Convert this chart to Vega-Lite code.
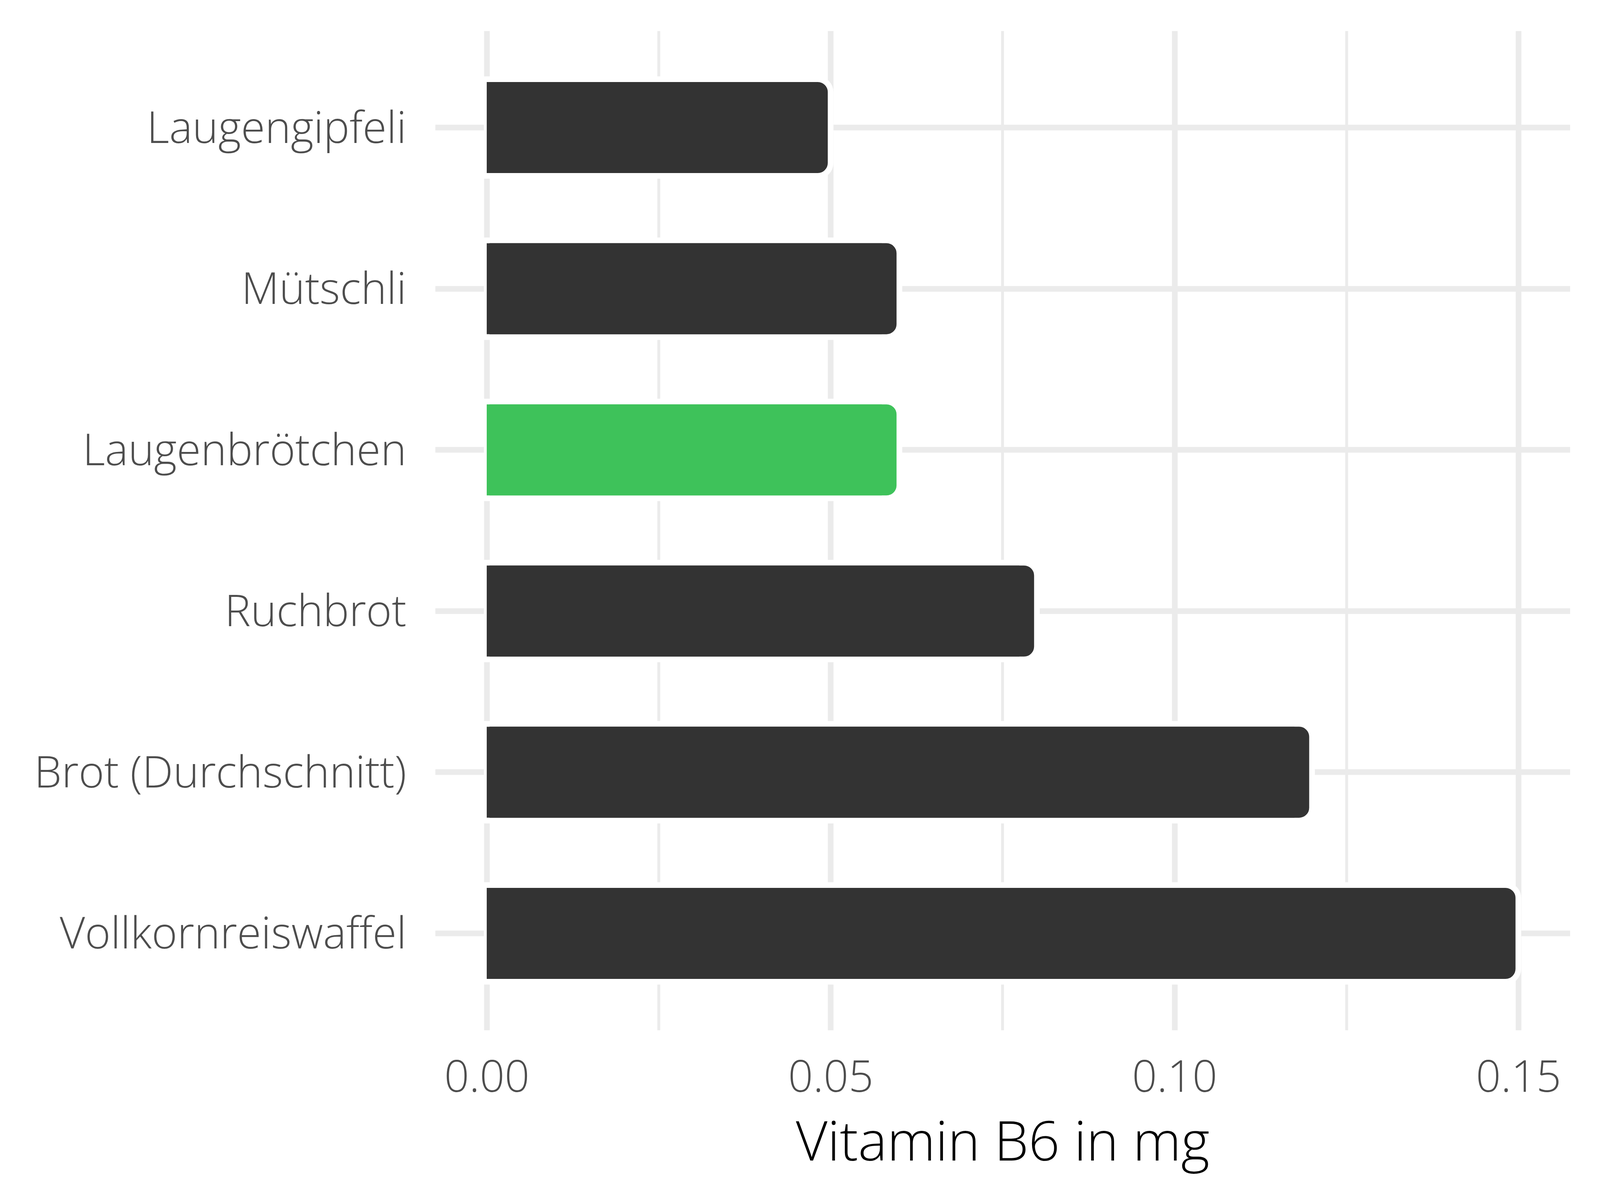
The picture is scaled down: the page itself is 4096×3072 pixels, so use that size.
{
  "$schema": "https://vega.github.io/schema/vega-lite/v6.json",
  "width": 2905,
  "height": 2558,
  "autosize": {"type": "none"},
  "padding": {"left": 1114, "top": 79, "right": 77, "bottom": 435},
  "background": "white",
  "config": {"view": {"stroke": null}, "font": "Open Sans"},
  "data": {
    "values": [
      {"Lebensmittel": "Laugengipfeli", "VitaminB6": 0.05, "Hervorhebung": "nein"},
      {"Lebensmittel": "Mütschli", "VitaminB6": 0.06, "Hervorhebung": "nein"},
      {"Lebensmittel": "Laugenbrötchen", "VitaminB6": 0.06, "Hervorhebung": "ja"},
      {"Lebensmittel": "Ruchbrot", "VitaminB6": 0.08, "Hervorhebung": "nein"},
      {"Lebensmittel": "Brot (Durchschnitt)", "VitaminB6": 0.12, "Hervorhebung": "nein"},
      {"Lebensmittel": "Vollkornreiswaffel", "VitaminB6": 0.15, "Hervorhebung": "nein"}
    ]
  },
  "encoding": {
    "y": {
      "field": "Lebensmittel",
      "type": "nominal",
      "sort": null,
      "scale": {"paddingInner": 0.4, "paddingOuter": 0.3},
      "axis": {
        "title": null,
        "grid": true,
        "gridColor": "#EBEBEB",
        "gridWidth": 14.5,
        "ticks": false,
        "tickSize": 0,
        "domain": false,
        "bandPosition": 0.5,
        "labelPadding": 74,
        "labelFontSize": 112,
        "labelFont": "Open Sans",
        "labelFontWeight": 300,
        "labelColor": "#4D4D4D",
        "labelBaseline": "alphabetic",
        "labelOffset": 39,
        "labelLimit": 3000
      }
    },
    "x": {
      "field": "VitaminB6",
      "type": "quantitative",
      "scale": {"domain": [-0.0075, 0.1575], "nice": false, "zero": false},
      "axis": {
        "title": "Vitamin B6 in mg",
        "values": [0, 0.025, 0.05, 0.075, 0.1, 0.125, 0.15],
        "format": ".2f",
        "labelExpr": "abs(datum.value*20 - round(datum.value*20)) < 0.001 ? datum.label : ''",
        "grid": true,
        "gridColor": "#EBEBEB",
        "gridWidth": {"condition": {"test": "abs(datum.value*20 - round(datum.value*20)) < 0.001", "value": 14.5}, "value": 7.3},
        "ticks": false,
        "tickSize": 0,
        "domain": false,
        "labelFlush": false,
        "labelOverlap": false,
        "labelBound": false,
        "labelLimit": 3000,
        "labelPadding": 157,
        "labelBaseline": "alphabetic",
        "labelFontSize": 112,
        "labelFont": "Open Sans",
        "labelFontWeight": 300,
        "labelColor": "#4D4D4D",
        "titleFont": "Open Sans",
        "titleFontSize": 140,
        "titleFontWeight": 300,
        "titleColor": "#000000",
        "titleBaseline": "alphabetic",
        "titleY": 333
      }
    },
    "x2": {"datum": 0},
    "color": {
      "field": "Hervorhebung",
      "type": "nominal",
      "scale": {"domain": ["nein", "ja"], "range": ["#333333", "#3EC25A"]},
      "legend": null
    }
  },
  "layer": [
    {
      "mark": {
        "type": "bar",
        "cornerRadiusTopRight": 33,
        "cornerRadiusBottomRight": 33,
        "stroke": "white",
        "strokeWidth": 14.5
      }
    },
    {
      "mark": {
        "type": "bar",
        "xOffset": -45,
        "height": {"band": 0.941}
      }
    }
  ]
}
